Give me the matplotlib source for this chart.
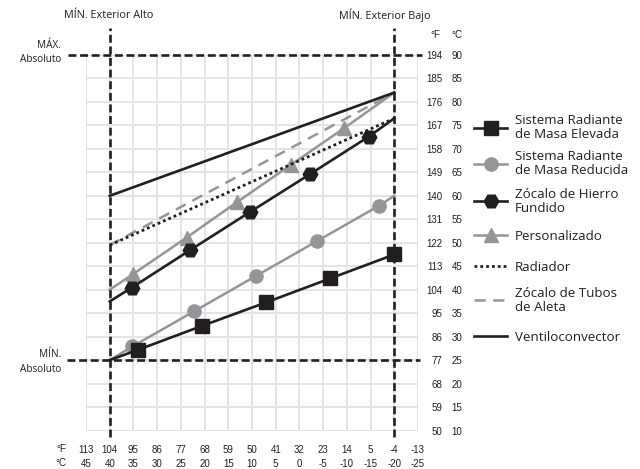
import matplotlib
matplotlib.use("Agg")
import matplotlib.pyplot as plt
import matplotlib.transforms as mtransforms

# ---------------- data ----------------
# x axis: outdoor temperature (°C), y axis: supply water temperature (°C)
x_ticks_c = [45, 40, 35, 30, 25, 20, 15, 10, 5, 0, -5, -10, -15, -20, -25]
x_ticks_f = ["113", "104", "95", "86", "77", "68", "59", "50", "41", "32", "23", "14", "5", "-4", "-13"]
x_ticks_cl = ["45", "40", "35", "30", "25", "20", "15", "10", "5", "0", "-5", "-10", "-15", "-20", "-25"]

y_ticks_c = [10, 15, 20, 25, 30, 35, 40, 45, 50, 55, 60, 65, 70, 75, 80, 85, 90]
y_ticks_f = ["50", "59", "68", "77", "86", "95", "104", "113", "122", "131", "140", "149", "158", "167", "176", "185", "194"]
y_ticks_cl = ["10", "15", "20", "25", "30", "35", "40", "45", "50", "55", "60", "65", "70", "75", "80", "85", "90"]

elevada_x = [40, 34, 20.5, 7, -6.5, -20]
elevada_y = [25, 27.2, 32.3, 37.3, 42.4, 47.5]

reducida_x = [40, 35.2, 22.2, 9.2, -3.8, -16.8, -20]
reducida_y = [25, 27.9, 35.4, 42.9, 50.4, 57.9, 60]

zocalo_x = [40, 35.4, 23.1, 10.5, -2.2, -14.6, -20]
zocalo_y = [37.5, 40.4, 48.4, 56.5, 64.6, 72.6, 76.5]

personal_x = [40, 35.1, 23.8, 13.1, 1.8, -9.4, -20]
personal_y = [40, 43.3, 51.1, 58.7, 66.6, 74.4, 82]

radiador_x = [40, -20]
radiador_y = [49.5, 76.5]

aleta_x = [40, -20]
aleta_y = [49.5, 82]

ventilo_x = [40, -20]
ventilo_y = [60, 82]

limit_out_high = 40    # MÍN. Exterior Alto
limit_out_low = -20    # MÍN. Exterior Bajo
limit_max = 90         # MÁX. Absoluto
limit_min = 25         # MÍN. Absoluto

labels = ["Sistema Radiante\nde Masa Elevada", "Sistema Radiante\nde Masa Reducida",
          "Zócalo de Hierro\nFundido", "Personalizado", "Radiador",
          "Zócalo de Tubos\nde Aleta", "Ventiloconvector"]

# ---------------- style ----------------
BLACK = "#231f20"
GRAY = "#939598"
GRID = "#e4e4e4"
TXT = "Open Sans"
NUM = "Liberation Sans"

fig = plt.figure(figsize=(6.4, 4.69), dpi=100)
ax = fig.add_axes([86/640, 1-430.5/469, 332/640, 375.5/469])
ax2 = ax.twinx()

ax.set_xlim(45, -25)
ax.set_ylim(10, 90)
ax2.set_ylim(10, 90)
for a in (ax, ax2):
    for s in a.spines.values():
        s.set_visible(False)

ax.set_xticks(x_ticks_c)
ax.set_xticklabels([f + "\n" + c for f, c in zip(x_ticks_f, x_ticks_cl)],
                   fontsize=7.0, family=NUM, color=BLACK)
for t in ax.get_xticklabels():
    t.set_linespacing(1.5)
ax.tick_params(axis="x", length=0, pad=10.5)

# °F column (right side, right aligned)
ax.set_yticks(y_ticks_c)
ax.set_yticklabels(y_ticks_f, fontsize=7.0, family=NUM, color=BLACK)
ax.tick_params(axis="y", length=0, pad=17.5, left=False, labelleft=False,
               right=False, labelright=True)
for tk in ax.yaxis.get_major_ticks():
    tk.label2.set_horizontalalignment("right")

# °C column
ax2.set_yticks(y_ticks_c)
ax2.set_yticklabels(y_ticks_cl, fontsize=7.0, family=NUM, color=BLACK)
ax2.tick_params(axis="y", length=0, pad=24)
ax2.grid(False)

ax.grid(True, color=GRID, lw=1.4, zorder=0)
ax.set_axisbelow(True)

# limit lines (dashed)
dash = dict(color=BLACK, lw=1.9, dashes=(3.0, 1.4), clip_on=False, zorder=5)
ax.plot([limit_out_high, limit_out_high], [8.6, 95.8], **dash)
ax.plot([limit_out_low, limit_out_low], [8.6, 95.8], **dash)
ax.plot([48.8, -25.8], [limit_max, limit_max], **dash)
ax.plot([49.0, -25.4], [limit_min, limit_min], **dash)

# series
h1, = ax.plot(elevada_x, elevada_y, color=BLACK, lw=1.9, marker="s", ms=10,
              markevery=[1, 2, 3, 4, 5], zorder=4)
h2, = ax.plot(reducida_x, reducida_y, color=GRAY, lw=1.8, marker="o", ms=9.5,
              markevery=[1, 2, 3, 4, 5], zorder=3)
h3, = ax.plot(zocalo_x, zocalo_y, color=BLACK, lw=1.9, marker="H", ms=10.5,
              markevery=[1, 2, 3, 4, 5], zorder=4)
h4, = ax.plot(personal_x, personal_y, color=GRAY, lw=1.8, marker="^", ms=10.5,
              markevery=[1, 2, 3, 4, 5], zorder=3)
h5, = ax.plot(radiador_x, radiador_y, color=BLACK, lw=2.0, dashes=(1.0, 1.1), zorder=4)
h6, = ax.plot(aleta_x, aleta_y, color=GRAY, lw=1.8, dashes=(4.5, 3.0), zorder=3)
h7, = ax.plot(ventilo_x, ventilo_y, color=BLACK, lw=1.9, zorder=4)

# legend: one legend box per entry, stacked at the reference positions
handles = [h1, h2, h3, h4, h5, h6, h7]
legend_centers_px = [128, 164, 201, 236, 267, 300, 337]
for h, lab, yc in zip(handles, labels, legend_centers_px):
    lg = fig.legend([h], [lab], loc="center left",
                    bbox_to_anchor=(474/640, 1-yc/469), frameon=False,
                    borderpad=0, borderaxespad=0, handlelength=2.5,
                    handletextpad=0.55, prop={"family": TXT, "size": 9.6})
    for t in lg.get_texts():
        t.set_color(BLACK)
        t.set_linespacing(1.1)

# annotations
bl = mtransforms.blended_transform_factory(ax.transAxes, ax.transData)
ax.text(0.069, 1.1065, "MÍN. Exterior Alto", transform=ax.transAxes, ha="center",
        va="center", fontsize=7.8, family=TXT, color=BLACK)
ax.text(0.9006, 1.1065, "MÍN. Exterior Bajo", transform=ax.transAxes, ha="center",
        va="center", fontsize=7.8, family=TXT, color=BLACK)
ax.text(-0.0753, limit_max + 0.5, "MÁX.\nAbsoluto", transform=bl, ha="right",
        va="center", fontsize=7.2, family=TXT, color=BLACK, linespacing=1.4)
ax.text(-0.0753, limit_min - 0.4, "MÍN.\nAbsoluto", transform=bl, ha="right",
        va="center", fontsize=7.2, family=TXT, color=BLACK, linespacing=1.4)
ax.text(1.051, 1.053, "°F", transform=ax.transAxes, ha="center", va="center",
        fontsize=7.0, family=NUM, color=BLACK)
ax.text(1.117, 1.053, "°C", transform=ax.transAxes, ha="center", va="center",
        fontsize=7.0, family=NUM, color=BLACK)
ax.text(-0.075, -0.0679, "°F\n°C", transform=ax.transAxes, ha="center",
        va="center", fontsize=7.0, family=NUM, color=BLACK, linespacing=1.5)

fig.savefig("out.png", dpi=100)
